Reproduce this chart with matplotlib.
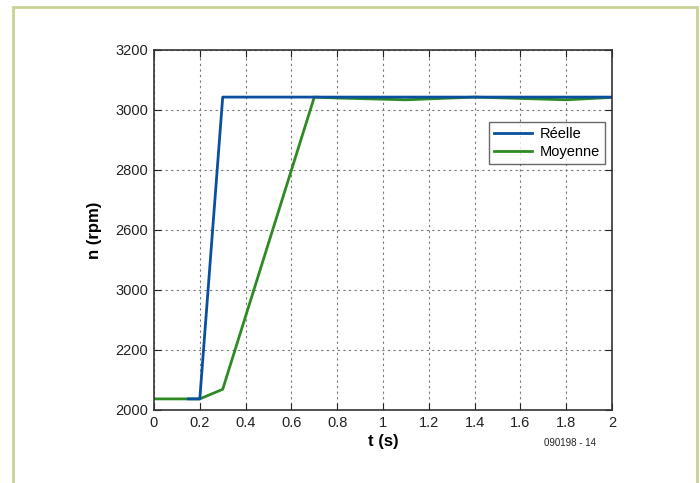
import matplotlib.pyplot as plt
from matplotlib.patches import Rectangle

plt.rcParams['font.family'] = ['Liberation Sans', 'DejaVu Sans']

# Speed response data (t in s, n in rpm)
t_reelle = [0.15, 0.2, 0.3, 2.0]
n_reelle = [2037, 2037, 3043, 3043]

t_moyenne = [0.0, 0.2, 0.3, 0.7, 0.8, 1.1, 1.4, 1.8, 2.0]
n_moyenne = [2037, 2037, 2069, 3043, 3040, 3034, 3043, 3034, 3042]

x_ticks = [0, 0.2, 0.4, 0.6, 0.8, 1, 1.2, 1.4, 1.6, 1.8, 2]
x_labels = ["0", "0.2", "0.4", "0.6", "0.8", "1", "1.2", "1.4", "1.6", "1.8", "2"]
y_ticks = [2000, 2200, 2400, 2600, 2800, 3000, 3200]
y_labels = ["2000", "2200", "3000", "2600", "2800", "3000", "3200"]

fig = plt.figure(figsize=(7, 4.83), dpi=100)

# olive frame around the figure
fig.patches.append(Rectangle((12.5 / 700, -0.1), 684 / 700, 1 - 6.5 / 483 + 0.1,
                             transform=fig.transFigure, fill=False,
                             edgecolor="#c8d195", linewidth=2))

ax = fig.add_axes([154 / 700, 1 - 410 / 483, 458 / 700, 360 / 483])

ax.plot(t_moyenne, n_moyenne, color="#2e8b24", linewidth=2, label="Moyenne")
ax.plot(t_reelle, n_reelle, color="#0a4fa0", linewidth=2, label="Réelle")

ax.set_xlim(0, 2)
ax.set_ylim(2000, 3200)
ax.set_xticks(x_ticks)
ax.set_xticklabels(x_labels)
ax.set_yticks(y_ticks)
ax.set_yticklabels(y_labels)
ax.tick_params(direction="in", top=True, right=True, length=5,
               labelsize=10.5, colors="#222222", pad=4)
ax.grid(True, color="#777777", linestyle=(0, (2, 3)), linewidth=0.8)
for sp in ax.spines.values():
    sp.set_color("#333333")
    sp.set_linewidth(1.2)

ax.set_xlabel("t (s)", fontsize=12, fontweight="bold", labelpad=3)
ax.set_ylabel("n (rpm)", fontsize=12, fontweight="bold", labelpad=10)

handles, labels = ax.get_legend_handles_labels()
leg = ax.legend(handles[::-1], labels[::-1], loc="upper left",
                bbox_to_anchor=(335 / 458, 1 - 72 / 360), borderaxespad=0,
                fontsize=10.5, frameon=True, fancybox=False,
                edgecolor="#444444", borderpad=0.35, handlelength=2.6,
                handletextpad=0.5, labelspacing=0.25)
leg.get_frame().set_linewidth(1)

fig.text(570 / 700, 1 - 443 / 483, "090198 - 14", fontsize=7, ha="center",
         va="center", color="#222222")

fig.savefig("out.png", dpi=100)
